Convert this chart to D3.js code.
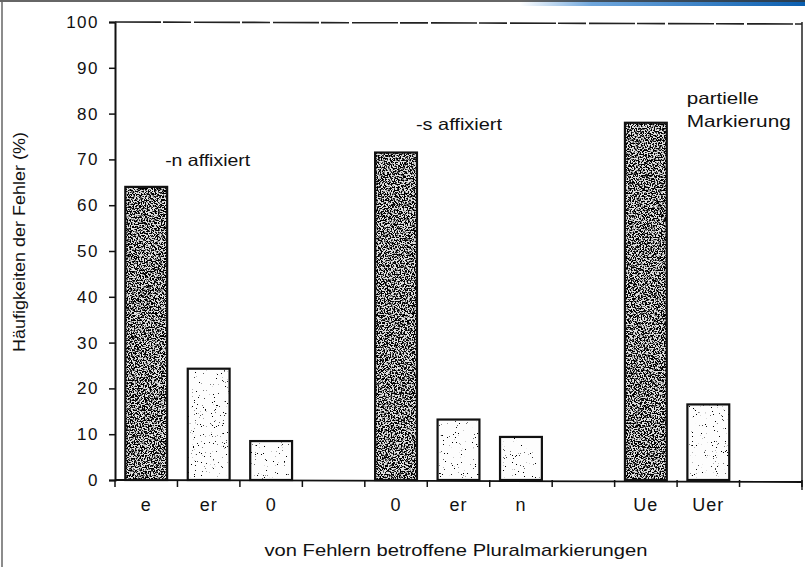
<!doctype html>
<html lang="de">
<head>
  <meta charset="utf-8">
  <title>Häufigkeiten der Fehler</title>
  <script src="https://cdn.jsdelivr.net/npm/d3@7"></script>
  <style>
    body{margin:0;background:#fff}
    text{font-family:"Liberation Sans",Arial,sans-serif;fill:#111}
  </style>
</head>
<body>
<div id="chart"></div>
<script>
// slots on the x axis (empty slots are the gaps between the groups)
var slots = ["e", "er", "0", "g1", "0b", "er2", "n", "g2", "Ue", "Uer", "g3"];
var slotLabels = ["e", "er", "0", "", "0", "er", "n", "", "Ue", "Uer", ""];
var values = [64, 24.3, 8.5, null, 71.5, 13.2, 9.4, null, 78, 16.5, null];
var dark = [true, false, false, false, true, false, false, false, true, false, false];
var yTicks = [0, 10, 20, 30, 40, 50, 60, 70, 80, 90, 100];
var notes = [
  {slot: "e", lines: ["-n affixiert"], widths: [85], dx: -2, val: 68.5},
  {slot: "0b", lines: ["-s affixiert"], widths: [86], dx: -1, val: 76.5},
  {slot: "Ue", lines: ["partielle", "Markierung"], widths: [72, 104], dx: 20, val: 82}
];

var W = 805, H = 567;
var svg = d3.select("#chart").append("svg").attr("width", W).attr("height", H);

var y = d3.scaleLinear().domain([0, 100]).range([480, 22]);
var x = d3.scaleBand().domain(slots).range([115, 802]).paddingInner(0.33).paddingOuter(0.165);

var defs = svg.append("defs");
var grad = defs.append("linearGradient").attr("id", "topbar");
grad.append("stop").attr("offset", "0").attr("stop-color", "#ffffff");
grad.append("stop").attr("offset", "0.25").attr("stop-color", "#6fa6dc");
grad.append("stop").attr("offset", "1").attr("stop-color", "#0b5fb0");

function speck(id, freq, slope, inter) {
  var f = defs.append("filter").attr("id", id);
  f.append("feTurbulence").attr("type", "fractalNoise").attr("baseFrequency", freq)
    .attr("numOctaves", 2).attr("seed", 7).attr("result", "noise");
  f.append("feColorMatrix").attr("in", "noise").attr("type", "matrix")
    .attr("values", "0 0 0 0 0  0 0 0 0 0  0 0 0 0 0  " + slope + " 0 0 0 " + inter)
    .attr("result", "dots");
  f.append("feComposite").attr("in", "dots").attr("in2", "SourceGraphic").attr("operator", "in");
}
speck("speckDark", 0.7, -9, 5.0);
speck("speckLight", 0.9, -20, 5.85);

// scan frame
svg.append("rect").attr("x", 520).attr("y", 0).attr("width", 285).attr("height", 6).attr("fill", "url(#topbar)");
svg.append("line").attr("x1", 0).attr("x2", W).attr("y1", 1).attr("y2", 1).attr("stroke", "#333").attr("stroke-width", 1.5);
svg.append("line").attr("x1", 2).attr("x2", 2).attr("y1", 0).attr("y2", H).attr("stroke", "#666").attr("stroke-width", 1.5);

// y axis
var yAxis = svg.append("g").attr("transform", "translate(115,0)")
  .call(d3.axisLeft(y).tickValues(yTicks).tickSize(6).tickPadding(10));
yAxis.select(".domain").attr("stroke", "#111").attr("stroke-width", 2);
yAxis.selectAll(".tick line").attr("stroke", "#111").attr("stroke-width", 1.5);
yAxis.selectAll(".tick text").style("font-size", "17px").style("letter-spacing", "1.5px")
  .style("font-family", "'Liberation Sans',Arial,sans-serif").attr("fill", "#111");

// top line and right edge of the plot
svg.append("line").attr("x1", 115).attr("x2", 802).attr("y1", y(100)).attr("y2", y(100) + 2)
  .attr("stroke", "#222").attr("stroke-width", 1.6).attr("stroke-dasharray", "46,2,28,3");
svg.append("line").attr("x1", 802).attr("x2", 802).attr("y1", y(100)).attr("y2", y(0) + 10)
  .attr("stroke", "#222").attr("stroke-width", 1.5);

// x axis with ticks at the slot edges
var edges = d3.range(slots.length + 1).map(function (i) { return 115 + i * x.step(); });
svg.append("line").attr("x1", 115).attr("x2", 802).attr("y1", y(0)).attr("y2", y(0) + 2)
  .attr("stroke", "#111").attr("stroke-width", 1.8);
svg.selectAll("line.xtick").data(edges).enter().append("line").attr("class", "xtick")
  .attr("x1", function (d) { return d; }).attr("x2", function (d) { return d; })
  .attr("y1", y(0)).attr("y2", y(0) + 7).attr("stroke", "#111").attr("stroke-width", 1.5);

svg.selectAll("text.xlab").data(slots).enter().append("text").attr("class", "xlab")
  .attr("x", function (d) { return x(d) + x.bandwidth() / 2; })
  .attr("y", 511).attr("text-anchor", "middle").style("font-size", "18px").style("letter-spacing", "1px")
  .text(function (d, i) { return slotLabels[i]; });

// bars
var barData = slots.map(function (s, i) { return {slot: s, v: values[i], dark: dark[i]}; })
  .filter(function (d) { return d.v !== null; });
var bars = svg.append("g");
bars.selectAll("rect.base").data(barData).enter().append("rect").attr("class", "base")
  .attr("x", function (d) { return x(d.slot); }).attr("width", x.bandwidth())
  .attr("y", function (d) { return y(d.v); }).attr("height", function (d) { return y(0) - y(d.v); })
  .attr("fill", function (d) { return d.dark ? "#e2e2e2" : "#fdfdfd"; });
bars.selectAll("rect.tex").data(barData).enter().append("rect").attr("class", "tex")
  .attr("x", function (d) { return x(d.slot); }).attr("width", x.bandwidth())
  .attr("y", function (d) { return y(d.v); }).attr("height", function (d) { return y(0) - y(d.v); })
  .attr("fill", "#222").attr("filter", function (d) { return d.dark ? "url(#speckDark)" : "url(#speckLight)"; });
bars.selectAll("rect.edge").data(barData).enter().append("rect").attr("class", "edge")
  .attr("x", function (d) { return x(d.slot); }).attr("width", x.bandwidth())
  .attr("y", function (d) { return y(d.v); }).attr("height", function (d) { return y(0) - y(d.v); })
  .attr("fill", "none").attr("stroke", "#111").attr("stroke-width", 2.2);

// group notes
notes.forEach(function (n) {
  var x0 = x(n.slot) + x.bandwidth() + n.dx;
  n.lines.forEach(function (l, i) {
    svg.append("text").attr("x", x0).attr("y", y(n.val) + i * 23)
      .attr("textLength", n.widths[i]).attr("lengthAdjust", "spacingAndGlyphs")
      .style("font-size", "16.5px").text(l);
  });
});

// axis titles
svg.append("text").attr("x", 456).attr("y", 556).attr("text-anchor", "middle")
  .attr("textLength", 383).attr("lengthAdjust", "spacingAndGlyphs")
  .style("font-size", "17px").text("von Fehlern betroffene Pluralmarkierungen");
svg.append("text").attr("transform", "translate(25,242) rotate(-90)").attr("text-anchor", "middle")
  .attr("textLength", 220).attr("lengthAdjust", "spacingAndGlyphs")
  .style("font-size", "16.5px").text("Häufigkeiten der Fehler (%)");
</script>
</body>
</html>
